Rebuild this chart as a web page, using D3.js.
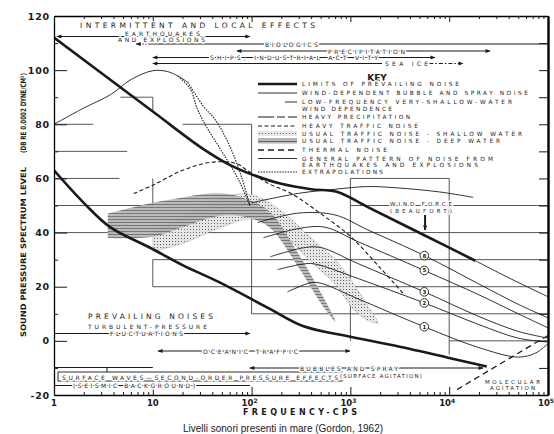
<!DOCTYPE html>
<html>
<head>
<meta charset="utf-8">
<script src="https://cdn.jsdelivr.net/npm/d3@7"></script>
<style>
  body { margin: 0; background: #fff; }
  text { font-family: "DejaVu Sans", sans-serif; fill: #1a1a1a; }
  .halo { stroke: #fff; stroke-width: 3px; paint-order: stroke; stroke-linejoin: round; }
</style>
</head>
<body>
<div id="chart"></div>
<script>
// ---- data (frequency in cps, level in dB) ----
const yTickValues = [-20, 0, 20, 40, 60, 80, 100, 120];
const xDecades = [1, 10, 100, 1000, 10000, 100000];
const xDecadeLabels = [["1", ""], ["10", ""], ["10", "2"], ["10", "3"], ["10", "4"], ["10", "5"]];

const upperLimit = [[1,112],[10,84.7],[32,71],[60,65],[100,61.5],[200,58],[400,56],[740,55],[1500,49.4],[5600,39],[18400,29.6]];
const upperExtension = [[18400,29.6],[40000,23.3],[100000,16.3]];
const lowerLimit = [[1,63],[2,51],[3.7,42],[9.4,34.4],[20,28],[48,21.5],[150,12],[330,5.5],[1000,1.5],[3000,-2],[10000,-6.3],[24000,-9.5]];

const windLabels = ["8", "5", "3", "2", "1"];
const wind8 = [[115,43.7],[300,47.2],[700,46.5],[1500,41],[5600,31.5],[20000,21],[50000,13.5],[100000,8.5]];
const wind5 = [[132,38.1],[300,41.5],[550,42],[1200,36.6],[5600,26],[20000,17],[50000,10],[100000,4.8]];
const wind3 = [[155,31.1],[350,34.5],[500,34.5],[1200,28.5],[5600,18.1],[20000,9],[50000,3.5],[100000,1]];
const wind2 = [[183,26.3],[350,28.5],[450,28.3],[1200,23],[5600,14],[20000,6],[50000,1],[100000,-0.4]];
const wind1 = [[231,18.1],[400,21.5],[500,21.3],[1200,15.5],[5600,5.2],[20000,-2.5],[50000,-6],[75000,-4.5],[100000,-1]];

const heavyPrecip = [[100,51],[300,54.5],[700,56],[1500,57],[3000,56.5],[8000,55],[17500,53]];
const heavyTraffic = [[6.4,54.4],[10,57.5],[20,63],[40,66],[70,65.5],[90,63],[150,58],[250,54.5],[500,47],[1000,38.6],[2000,27],[3400,17.6]];
const thermalNoise = [[12000,-18],[100000,2]];

const quakeRise = [[1,80],[2,86],[3.76,91],[6,96.5],[10,99.8],[14,99.5],[18,97.8],[22.6,95.5]];
const quakeFallA = [[18,97.8],[24,93],[28,86],[35,79],[50,70],[75,59],[96,50]];
const quakeFallB = [[22.6,95.5],[32.6,86.6],[43,81.6],[60,72],[80,60],[96,50]];

const deepFreq  = [3.5, 10, 20, 45, 80, 150, 300, 500, 700];
const deepUpper = [47, 51, 53, 54.5, 53, 48, 32, 18, 8];
const deepLower = [38, 38.5, 42, 46, 46, 42, 27, 14, 7];
const shallowFreq  = [10, 20, 50, 100, 200, 400, 700, 1000, 1500, 1900];
const shallowUpper = [40, 46, 53, 54, 48, 38, 30, 23, 13, 7];
const shallowLower = [33, 36, 42, 45, 40, 29, 21, 13, 7.5, 6.5];

// grid segments [f1, f2, dB] and [f, dB1, dB2]
const gridH = [[1,2.5,80],[20,100,80],[4.7,10,90],[1,5.5,70],[1,4.6,60],[1000,10000,60],[1,10,50],[1000,100000,50],
               [1,5.3,40],[20,100000,40],[10,100000,30],[10,100000,20],[100,100000,10],[10000,100000,0]];
const gridV = [[10,85,90],[10,50,60],[10,20,30],[100,10,80],[1000,0,60],[10000,-5,60]];

const keyLabels = [
  ["LIMITS OF PREVAILING NOISE"],
  ["WIND-DEPENDENT BUBBLE AND SPRAY NOISE"],
  ["LOW-FREQUENCY VERY-SHALLOW-WATER", "WIND DEPENDENCE"],
  ["HEAVY PRECIPITATION"],
  ["HEAVY TRAFFIC NOISE"],
  ["USUAL TRAFFIC NOISE - SHALLOW WATER"],
  ["USUAL TRAFFIC NOISE - DEEP WATER"],
  ["THERMAL NOISE"],
  ["GENERAL PATTERN OF NOISE FROM", "EARTHQUAKES AND EXPLOSIONS"],
  ["EXTRAPOLATIONS"]
];

// ---- setup ----
const svg = d3.select("#chart").append("svg")
  .attr("width", 554).attr("height", 434).style("display", "block");

const x = d3.scaleLog().domain([1, 1e5]).range([54, 548]);
const y = d3.scaleLinear().domain([-20, 120]).range([395, 16]);

const defs = svg.append("defs");
defs.append("clipPath").attr("id", "plot")
  .append("rect").attr("x", x(1)).attr("y", y(120)).attr("width", x(1e5) - x(1)).attr("height", y(-20) - y(120));

defs.append("marker").attr("id", "arr")
  .attr("viewBox", "0 0 10 10").attr("refX", 9).attr("refY", 5)
  .attr("markerWidth", 7).attr("markerHeight", 5).attr("markerUnits", "userSpaceOnUse")
  .attr("orient", "auto-start-reverse")
  .append("path").attr("d", "M0,1L10,5L0,9Z").attr("fill", "#1a1a1a");

const deepPat = defs.append("pattern").attr("id", "deep")
  .attr("width", 4).attr("height", 3).attr("patternUnits", "userSpaceOnUse");
deepPat.append("rect").attr("width", 4).attr("height", 3).attr("fill", "#b4b4b4");
deepPat.append("rect").attr("y", 0).attr("width", 4).attr("height", 0.8).attr("fill", "#5a5a5a");

const shallowPat = defs.append("pattern").attr("id", "shallow")
  .attr("width", 3).attr("height", 3).attr("patternUnits", "userSpaceOnUse");
shallowPat.append("rect").attr("width", 3).attr("height", 3).attr("fill", "#e6e6e6");
shallowPat.append("rect").attr("x", 1).attr("y", 1).attr("width", 1).attr("height", 1).attr("fill", "#666");

const line = d3.line().x(d => x(d[0])).y(d => y(d[1])).curve(d3.curveCatmullRom.alpha(0.5));
const plot = svg.append("g").attr("clip-path", "url(#plot)");

// ---- grid ----
plot.selectAll(".gh").data(gridH).join("line")
  .attr("x1", d => x(d[0])).attr("x2", d => x(d[1]))
  .attr("y1", d => y(d[2])).attr("y2", d => y(d[2]))
  .attr("stroke", "#444").attr("stroke-width", 0.9);
plot.selectAll(".gv").data(gridV).join("line")
  .attr("x1", d => x(d[0])).attr("x2", d => x(d[0]))
  .attr("y1", d => y(d[1])).attr("y2", d => y(d[2]))
  .attr("stroke", "#444").attr("stroke-width", 0.9);

// ---- traffic bands ----
function band(freq, upper, lower) {
  const up = freq.map((f, i) => [x(f), y(upper[i])]);
  const lo = freq.map((f, i) => [x(f), y(lower[i])]).reverse();
  const l = d3.line().curve(d3.curveCatmullRom);
  return l(up) + "L" + l(lo).slice(1) + "Z";
}
plot.append("path").attr("d", band(shallowFreq, shallowUpper, shallowLower))
  .attr("fill", "url(#shallow)").attr("stroke", "#888").attr("stroke-width", 0.3);
plot.append("path").attr("d", band(deepFreq, deepUpper, deepLower))
  .attr("fill", "url(#deep)").attr("stroke", "none").attr("opacity", 0.92);

// ---- curves ----
function curve(data, width, dash) {
  plot.append("path").datum(data).attr("d", line)
    .attr("fill", "none").attr("stroke", "#1a1a1a")
    .attr("stroke-width", width).attr("stroke-dasharray", dash || null);
}
curve(quakeRise, 0.9);
curve(quakeFallA, 1.1, "1.5,1.2");
curve(quakeFallB, 1.1, "1.5,1.2");
curve(heavyTraffic, 1.1, "4,2.5");
curve(heavyPrecip, 0.9);
const windCurves = [wind8, wind5, wind3, wind2, wind1];
windCurves.forEach(c => curve(c, 0.9));
curve(thermalNoise, 1.3, "6,4");
curve(upperExtension, 0.9);
curve(upperLimit, 2.6);
curve(lowerLimit, 2.6);

// Beaufort markers
windCurves.forEach((c, i) => {
  const p = c.find(d => d[0] === 5600);
  const g = svg.append("g").attr("transform", `translate(${x(p[0])},${y(p[1])})`);
  g.append("circle").attr("r", 4.3).attr("fill", "#fff").attr("stroke", "#1a1a1a").attr("stroke-width", 0.9);
  g.append("text").attr("text-anchor", "middle").attr("y", 2).attr("font-size", 5.5)
    .attr("font-weight", "bold").text(windLabels[i]);
});

// ---- axes ----
const yAxis = svg.append("g").attr("transform", `translate(${x(1)},0)`)
  .call(d3.axisLeft(y).tickValues(yTickValues).tickSize(-13).tickSizeOuter(0).tickPadding(4).tickFormat(d => String(d)));
yAxis.select(".domain").attr("stroke-width", 1.3);
yAxis.selectAll("text").attr("font-size", 9.5).attr("font-weight", "bold").attr("letter-spacing", 0.8)
  .style("font-family", "'DejaVu Sans', sans-serif").attr("fill", "#1a1a1a");
svg.append("g").attr("transform", `translate(${x(1)},0)`)
  .call(d3.axisLeft(y).tickValues(d3.range(-10, 120, 20)).tickSize(-4).tickSizeOuter(0).tickFormat(""))
  .select(".domain").remove();

const minorF = [];
[1, 10, 100, 1000, 10000].forEach(d => d3.range(2, 10).forEach(m => minorF.push(m * d)));

const xAxis = svg.append("g").attr("transform", `translate(0,${y(-20)})`)
  .call(d3.axisBottom(x).tickValues(xDecades).tickSize(-8).tickSizeOuter(0).tickFormat(""));
xAxis.select(".domain").attr("stroke-width", 1.3);
svg.append("g").attr("transform", `translate(0,${y(-20)})`)
  .call(d3.axisBottom(x).tickValues(minorF).tickSize(-3).tickFormat(""))
  .select(".domain").remove();

svg.append("g").attr("transform", `translate(0,${y(120)})`)
  .call(d3.axisTop(x).tickValues(xDecades).tickSize(-6).tickSizeOuter(0).tickFormat(""))
  .select(".domain").attr("stroke-width", 1.3);
svg.append("g").attr("transform", `translate(0,${y(120)})`)
  .call(d3.axisTop(x).tickValues(minorF).tickSize(-3).tickFormat(""))
  .select(".domain").remove();

const rAxis = svg.append("g").attr("transform", `translate(${x(1e5)},0)`)
  .call(d3.axisRight(y).tickValues(d3.range(-10, 120, 10)).tickSize(-9).tickSizeOuter(0).tickFormat(""));
rAxis.select(".domain").attr("stroke-width", 2.4);

svg.selectAll(".tick line").attr("stroke", "#1a1a1a");

// x tick labels with exponents
xDecades.forEach((f, i) => {
  const t = svg.append("text").attr("x", x(f) + (i > 1 ? -2 : 0)).attr("y", 406)
    .attr("text-anchor", "middle").attr("font-size", 8.5).attr("font-weight", "bold");
  t.append("tspan").text(xDecadeLabels[i][0]);
  if (xDecadeLabels[i][1]) t.append("tspan").attr("dy", -3.5).attr("font-size", 6).text(xDecadeLabels[i][1]);
});

// axis titles
svg.append("text").attr("x", 243).attr("y", 415).attr("font-size", 8).attr("font-weight", "bold")
  .attr("textLength", 114).attr("lengthAdjust", "spacing").text("FREQUENCY-CPS");
svg.append("text").attr("transform", "translate(26,337) rotate(-90)").attr("font-size", 7.5)
  .attr("font-weight", "bold").attr("textLength", 170).attr("lengthAdjust", "spacingAndGlyphs")
  .text("SOUND PRESSURE SPECTRUM LEVEL");
svg.append("text").attr("transform", "translate(26,153) rotate(-90)").attr("font-size", 7.5)
  .attr("font-weight", "bold").attr("textLength", 80).attr("lengthAdjust", "spacingAndGlyphs")
  .text("(DB RE 0.0002 DYNE/CM²)");

svg.append("text").attr("x", 283).attr("y", 432).attr("text-anchor", "middle")
  .attr("font-size", 10).style("font-family", "'Liberation Sans', Arial, sans-serif")
  .text("Livelli sonori presenti in mare (Gordon, 1962)");

// ---- annotation arrows [f1, f2, yPx, startHead, endHead, dash] ----
const arrows = [
  [1.07, 96, 36.5, true, true],
  [9, 1e5, 44, false, false],
  [6.8, 9, 44, true, false, "1.5,1.5"],
  [71, 25900, 51, true, true],
  [10, 7180, 57.5, true, true],
  [10, 2090, 63.5, true, false],
  [6300, 13800, 63.5, false, true, "4,2,1.5,2"],
  [1, 96, 333.5, false, true],
  [11.3, 990, 351, true, true],
  [1, 10, 367.5, false, false],
  [96, 22000, 368, true, true],
  [1, 96, 385.5, false, false]
];
arrows.forEach(a => {
  svg.append("line").attr("x1", x(a[0])).attr("x2", x(a[1])).attr("y1", a[2]).attr("y2", a[2])
    .attr("stroke", "#1a1a1a").attr("stroke-width", 1.2)
    .attr("stroke-dasharray", a[5] || null)
    .attr("marker-start", a[3] ? "url(#arr)" : null)
    .attr("marker-end", a[4] ? "url(#arr)" : null);
});
svg.append("line").attr("x1", x(3.44)).attr("x2", x(3.44)).attr("y1", 367.5).attr("y2", 374)
  .attr("stroke", "#1a1a1a").attr("stroke-width", 1);
// surface waves box
svg.append("rect").attr("x", 58).attr("y", 372).attr("width", 284).attr("height", 9)
  .attr("fill", "#fff").attr("stroke", "#1a1a1a").attr("stroke-width", 0.9);

// wind force arrow
svg.append("line").attr("x1", x(5700)).attr("x2", x(5700)).attr("y1", 215).attr("y2", 230)
  .attr("stroke", "#1a1a1a").attr("stroke-width", 2).attr("marker-end", "url(#arr)");

// ---- texts [text, x, baseline, length, size] ----
const notes = [
  ["INTERMITTENT AND LOCAL EFFECTS", 80, 28, 235, 7.5],
  ["EARTHQUAKES", 125, 35.5, 75, 6],
  ["AND EXPLOSIONS", 118, 41.5, 87, 6],
  ["BIOLOGICS", 265, 46.5, 53, 6],
  ["PRECIPITATION", 328, 53.5, 77, 6],
  ["SHIPS,  INDUSTRIAL  ACT VITY", 210, 60, 168, 6],
  ["SEA ICE", 385, 66, 43, 6],
  ["WIND FORCE", 390, 206, 62, 5.5],
  ["(BEAUFORT)", 390, 212.5, 62, 5.5],
  ["PREVAILING NOISES", 88, 318.5, 125, 7.5],
  ["TURBULENT-PRESSURE", 88, 328.5, 119, 6],
  ["FLUCTUATIONS", 110, 336, 73, 6],
  ["OCEANIC TRAFFIC", 203, 353.5, 95, 6],
  ["BUBBLES AND SPRAY", 300, 370.5, 98, 6],
  ["(SURFACE AGITATION)", 340, 377.5, 82, 5.5],
  ["SURFACE WAVES\u2014SECOND-ORDER PRESSURE EFFECTS", 62, 379.5, 276, 6],
  ["(SEISMIC BACKGROUND)", 73, 388, 122, 6],
  ["MOLECULAR", 485, 383.5, 55, 5.5],
  ["AGITATION", 490, 389.5, 45, 5.5]
];
notes.forEach(n => {
  svg.append("text").attr("class", "halo").attr("x", n[1]).attr("y", n[2])
    .attr("font-size", n[4]).attr("textLength", n[3]).attr("lengthAdjust", "spacing").text(n[0]);
});

// ---- key ----
svg.append("text").attr("x", 377).attr("y", 80.5).attr("text-anchor", "middle")
  .attr("font-size", 9).attr("font-weight", "bold").text("KEY");
const keyRows = [84, 93, 102, 117, 126, 133.5, 141, 150, 158.5, 172];
const keyLen = [[157], [226], [210, 90], [108], [116], [220], [198], [85], [191, 176], [81]];
keyRows.forEach((ry, i) => {
  keyLabels[i].forEach((t, j) => {
    svg.append("text").attr("class", "halo").attr("x", 302).attr("y", ry + 2 + j * 6.5)
      .attr("font-size", 5.8).attr("textLength", keyLen[i][j]).attr("lengthAdjust", "spacing").text(t);
  });
});
const sample = (ry, w, dash, x0) => svg.append("line").attr("x1", x0 || 258).attr("x2", 297)
  .attr("y1", ry).attr("y2", ry).attr("stroke", "#1a1a1a").attr("stroke-width", w)
  .attr("stroke-dasharray", dash || null);
sample(keyRows[0], 2.6);
sample(keyRows[1], 0.9);
sample(keyRows[2], 0.9, null, 285);
sample(keyRows[3], 1.1, "16,3,8,3");
sample(keyRows[4], 1.1, "4,2.5");
svg.append("rect").attr("x", 258).attr("y", keyRows[5] - 2.5).attr("width", 39).attr("height", 5).attr("fill", "url(#shallow)");
svg.append("rect").attr("x", 258).attr("y", keyRows[6] - 2.5).attr("width", 39).attr("height", 5).attr("fill", "url(#deep)");
sample(keyRows[7], 1.3, "6,4");
sample(keyRows[8], 0.9);
sample(keyRows[9], 1.1, "1.5,1.2");
</script>
</body>
</html>
